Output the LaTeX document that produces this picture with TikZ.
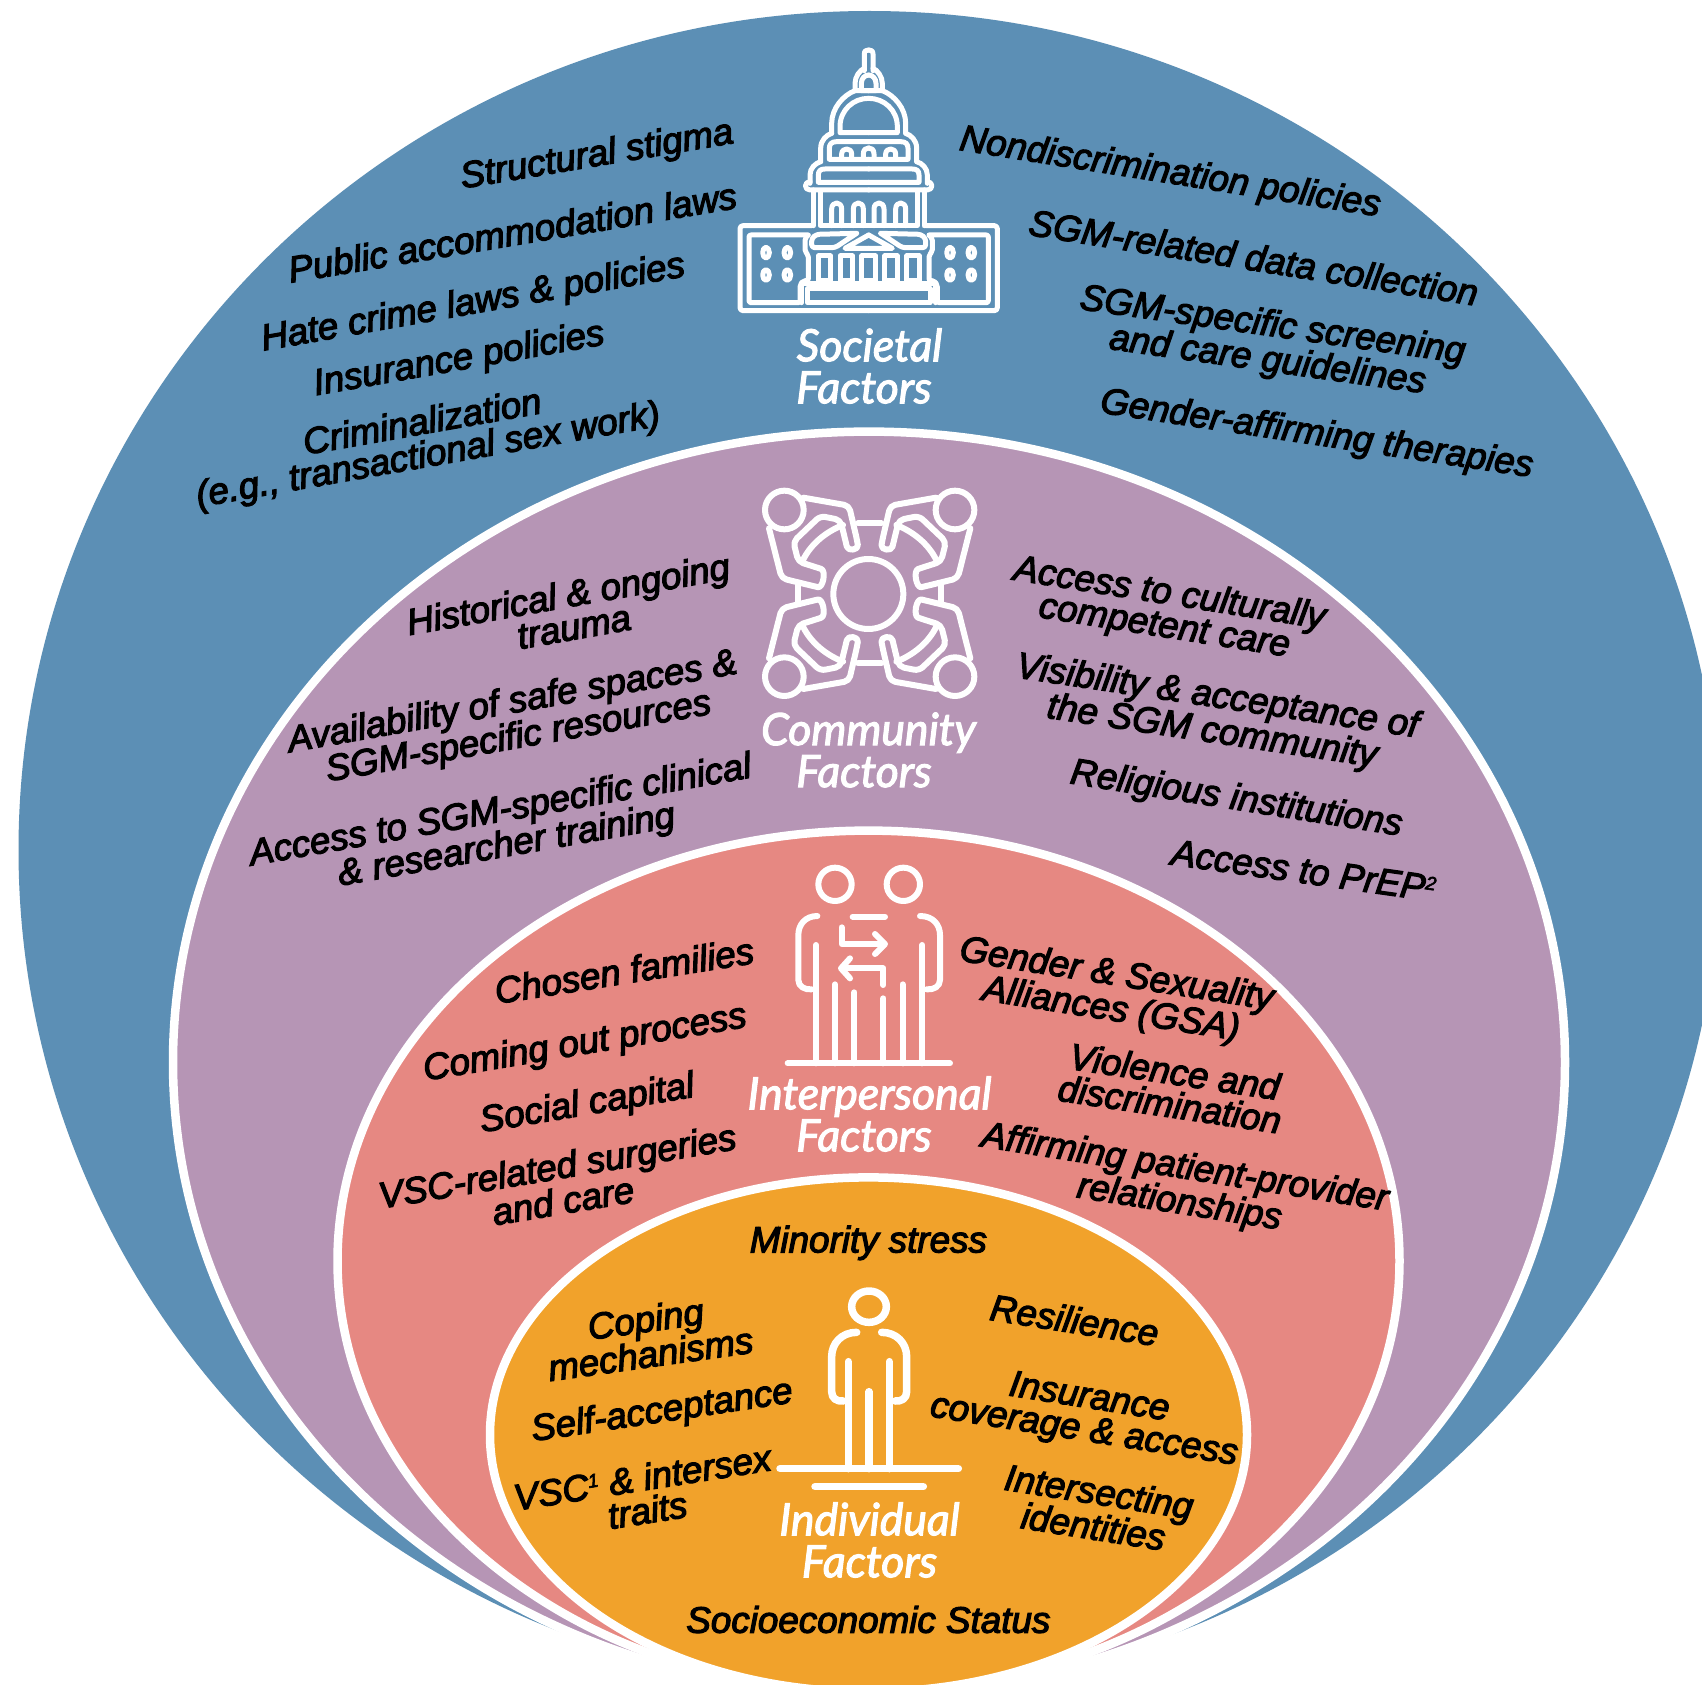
\documentclass[tikz,border=0pt]{standalone}
\usepackage{fontspec}
\newfontfamily\labfont[FakeBold=3.2]{Liberation Sans Italic}
\newfontfamily\headfont[FakeBold=2.5]{Lato Italic}
\definecolor{cblue}{HTML}{5C8FB5}
\definecolor{cpurple}{HTML}{B695B5}
\definecolor{cpink}{HTML}{E68882}
\definecolor{corange}{HTML}{F1A22B}
\newcommand\supnum[1]{\raisebox{11pt}{\fontsize{19}{19}\selectfont #1}}
\tikzset{
  ring/.style={draw=white,line width=8.5pt},
  lab/.style={text=black,font=\labfont\fontsize{36.8}{33}\selectfont,align=center,inner sep=0pt,rotate=#1},
  lab/.default=0,
  head/.style={text=white,font=\headfont\fontsize{44.5}{43}\selectfont,align=center,inner sep=0pt},
  icon/.style={draw=white,line cap=round,line join=round,fill=none},
}
\newcommand\capitolhalf{
  \draw[icon] (493,152) -- (493,102) .. controls (493,92) and (499,90) .. (506,90);
  \draw[icon] (506,212) -- (465,212) -- (465,190) .. controls (465,170) and (480,150) .. (493,145);
  \draw[icon] (506,212) -- (484,212) -- (484,190) .. controls (484,175) and (495,165) .. (506,165);
  \draw[icon] (395,340) -- (395,310) .. controls (395,265) and (430,225) .. (465,212);
  \draw[icon] (506,338) -- (420,338) -- (420,320) .. controls (420,270) and (460,235) .. (506,235);
  \draw[icon] (362,425) -- (362,385) .. controls (362,360) and (380,345) .. (395,340);
  \draw[icon] (506,418) -- (388,418) -- (388,385) .. controls (388,372) and (395,365) .. (410,365) -- (506,365);
  \draw[icon] (425,418) -- (425,402) .. controls (425,382) and (455,382) .. (455,402) -- (455,418);
  \draw[icon] (490,418) -- (490,402) .. controls (490,388) and (498,384) .. (506,384);
  \draw[icon] (330,490) -- (330,465) .. controls (330,445) and (345,430) .. (362,425);
  \draw[icon] (506,487) -- (355,487) -- (355,465) .. controls (355,452) and (362,447) .. (375,447) -- (506,447);
  \draw[icon] (330,485) .. controls (312,485) and (312,510) .. (330,510) -- (506,510);
  \draw[icon] (340,510) -- (340,617);
  \draw[icon] (360,512) -- (360,617) -- (506,617);
  \draw[icon] (395,617) -- (395,567) .. controls (395,543) and (425,543) .. (425,567) -- (425,617);
  \draw[icon] (460,617) -- (460,567) .. controls (460,543) and (490,543) .. (490,567) -- (490,617);
  \draw[icon,rounded corners=3pt] (335,617) -- (120,617) -- (120,872) -- (506,872);
  \draw[icon,rounded corners=2pt] (325,645) -- (147,645) -- (147,848) -- (300,848) -- (300,795) -- (310,782) -- (325,782) -- (325,705) -- (315,695) -- (315,655) -- (325,645);
  \draw[icon,rounded corners=3pt] (470,640) -- (405,683) -- (335,683) -- (335,655) -- (350,643) -- (470,640);
  \draw[icon] (506,645) -- (435,685) -- (506,685);
  \draw[icon] (355,708) rectangle (392,782);
  \draw[icon] (420,708) rectangle (458,782);
  \draw[icon] (506,708) -- (485,708) -- (485,782) -- (506,782);
  \draw[icon] (305,848) -- (305,790) -- (506,790);
  \draw[icon] (506,805) -- (322,805) -- (322,848) -- (506,848);
  \draw[icon] (198,698) ellipse [x radius=10,y radius=16];
  \draw[icon] (262,698) ellipse [x radius=10,y radius=16];
  \draw[icon] (198,765) ellipse [x radius=10,y radius=16];
  \draw[icon] (262,765) ellipse [x radius=10,y radius=16];
}
\newcommand\commquad{
  \draw[icon] (-256,-250) circle [radius=58];
  \draw[icon,rounded corners=5pt] (-199,-287) -- (-62,-263) -- (-38,-160) .. controls (-33,-130) and (-65,-125) .. (-72,-155) -- (-88,-220) -- (-148,-232) -- (-229,-155) -- (-214,-95) -- (-160,-78) .. controls (-130,-68) and (-140,-15) .. (-170,-22) -- (-264,-45) -- (-302,-195);
  \draw[icon] (-200,-100) .. controls (-175,-150) and (-130,-185) .. (-80,-205);
  \draw[icon] (-35,-210) -- (0,-210);
  \draw[icon] (-214,-25) -- (-214,0);
}
\begin{document}
\begin{tikzpicture}[x=1pt,y=-1pt]
\path[use as bounding box] (0,0) rectangle (1702,1685);
\clip (0,0) rectangle (1702,1685);
\fill[white] (0,0) rectangle (1702,1685);
% rings
\fill[cblue] (869.5,850) ellipse [x radius=851,y radius=839];
\filldraw[fill=cpurple,ring] (869,1062.4) ellipse [x radius=696,y radius=630.8];
\filldraw[fill=cpink,ring] (868.5,1261) ellipse [x radius=531,y radius=430.4];
\filldraw[fill=corange,ring] (868.5,1434.7) ellipse [x radius=378.5,y radius=257.3];
% capitol
\begin{scope}[shift={(700,20)},scale=1/3,line width=5pt]
  \capitolhalf
  \begin{scope}[shift={(1012,0)},xscale=-1]\capitolhalf\end{scope}
\end{scope}
% community
\begin{scope}[shift={(740,470)},scale=1/3,line width=6pt]
  \draw[icon] (385,372) circle [radius=105];
  \begin{scope}[shift={(389,370)}]\commquad\end{scope}
  \begin{scope}[shift={(389,370)},xscale=-1]\commquad\end{scope}
  \begin{scope}[shift={(389,370)},yscale=-1]\commquad\end{scope}
  \begin{scope}[shift={(389,370)},xscale=-1,yscale=-1]\commquad\end{scope}
\end{scope}
% interpersonal
\begin{scope}[shift={(760,850)},scale=1/3,line width=6pt]
  \draw[icon] (225,103) circle [radius=50];
  \draw[icon] (430,103) circle [radius=50];
  \draw[icon] (172,198) .. controls (135,198) and (115,225) .. (115,255) -- (115,390) .. controls (115,410) and (135,420) .. (155,418);
  \draw[icon] (480,198) .. controls (520,198) and (540,225) .. (540,255) -- (540,390) .. controls (540,410) and (520,420) .. (500,418);
  \draw[icon] (278,200) -- (375,200);
  \draw[icon] (168,285) -- (168,640);
  \draw[icon] (225,403) -- (225,640);
  \draw[icon] (283,427) -- (283,640);
  \draw[icon] (370,445) -- (370,640);
  \draw[icon] (428,403) -- (428,640);
  \draw[icon] (487,285) -- (487,640);
  \draw[icon] (245,232) -- (245,282) -- (372,282);
  \draw[icon] (345,252) -- (375,282) -- (345,312);
  \draw[icon] (370,405) -- (370,355) -- (245,355);
  \draw[icon] (270,325) -- (243,355) -- (270,385);
  \draw[icon] (83,640) -- (570,640);
\end{scope}
% individual
\begin{scope}[shift={(760,1270)},scale=1/3,line width=7.5pt]
  \draw[icon] (327,110) ellipse [x radius=52,y radius=47];
  \draw[icon] (290,187) .. controls (245,187) and (215,220) .. (215,260) -- (215,365) .. controls (215,385) and (230,395) .. (250,393);
  \draw[icon] (365,187) .. controls (410,187) and (440,220) .. (440,260) -- (440,365) .. controls (440,385) and (425,395) .. (405,393);
  \draw[icon] (265,275) -- (265,596);
  \draw[icon] (327,365) -- (327,596);
  \draw[icon] (388,275) -- (388,596);
  \draw[icon] (60,596) -- (595,596);
  \draw[icon] (165,650) -- (490,650);
\end{scope}
% headings
\node[head] (hsoc) at (869.5,366) {Societal\\[-1pt]Factors\hspace*{11pt}};
\node[head] (hcom) at (868.5,750) {Community\\[-1pt]Factors\hspace*{9pt}};
\node[head] (hint) at (869.5,1114) {Interpersonal\\[-1pt]Factors\hspace*{11pt}};
\node[head] (hind) at (869.5,1540) {Individual\\[-1pt]Factors};
% labels (display coordinates)
\begin{scope}[x=1.0855pt,y=-1.0855pt]
\node[lab=9.5] (a1) at (550,144) {Structural stigma};
\node[lab=9.5] (a2) at (472,214) {Public accommodation laws};
\node[lab=10] (a3) at (436,280) {Hate crime laws \& policies};
\node[lab=10] (a4) at (423,332) {Insurance policies};
\node[lab=10] (a5) at (392,406) {Criminalization\\(e.g., transactional sex work)};
\node[lab=-9] (b1) at (1078,160) {Nondiscrimination policies};
\node[lab=-9] (b2) at (1155,237) {SGM-related data collection};
\node[lab=-8] (b3) at (1170,317) {SGM-specific screening\\and care guidelines};
\node[lab=-8.5] (b4) at (1213,401) {Gender-affirming therapies};
\node[lab=10] (c1) at (526,562) {Historical \& ongoing\\trauma};
\node[lab=10] (c2) at (475,664) {Availability of safe spaces \&\\SGM-specific resources};
\node[lab=10] (c3) at (464,764) {Access to SGM-specific clinical\\\& researcher training};
\node[lab=-9] (d1) at (1075,563) {Access to culturally\\competent care};
\node[lab=-8.5] (d2) at (1119,659) {Visibility \& acceptance of\\the SGM community};
\node[lab=-9] (d3) at (1139,737) {Religious institutions};
\node[lab=-8] (d4) at (1201,802) {Access to PrEP\supnum{2}};
\node[lab=9] (e1) at (575,894) {Chosen families};
\node[lab=9.5] (e2) at (539,962) {Coming out process};
\node[lab=9.5] (e3) at (541,1018) {Social capital};
\node[lab=9.5] (e4) at (516,1090) {VSC-related surgeries\\and care};
\node[lab=-9] (f1) at (1026,915) {Gender \& Sexuality\\Alliances (GSA)};
\node[lab=-8.5] (f2) at (1080,1002) {Violence and\\discrimination};
\node[lab=-9] (f3) at (1089,1093) {Affirming patient-provider\\relationships};
\node[lab] (g1) at (800,1145) {Minority stress};
\node[lab=8] (g2) at (597,1231) {Coping\\mechanisms};
\node[lab=8.5] (g3) at (610,1301) {Self-acceptance};
\node[lab=9] (g4) at (594,1376) {VSC\supnum{1} \& intersex\\traits};
\node[lab=-9] (h1) at (990,1216) {Resilience};
\node[lab=-9] (h2) at (1001,1304) {Insurance\\coverage \& access};
\node[lab=-9] (h3) at (1010,1390) {Intersecting\\identities};
\node[lab] (g5) at (800,1492) {Socioeconomic Status};
\end{scope}
\end{tikzpicture}
\end{document}
